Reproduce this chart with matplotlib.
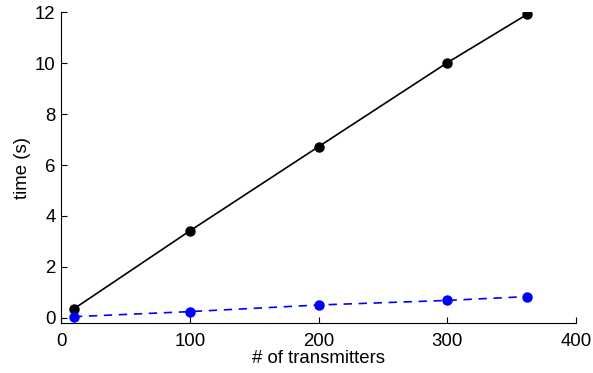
import matplotlib
matplotlib.use("Agg")
import matplotlib.pyplot as plt

plt.rcParams['font.family'] = ['Liberation Sans', 'DejaVu Sans']

# data
transmitters = [10, 100, 200, 300, 362]
time_black = [0.35, 3.41, 6.72, 10.02, 11.92]
time_blue = [0.04, 0.24, 0.5, 0.68, 0.83]

fig = plt.figure(figsize=(5.93, 3.73), dpi=100)
ax = fig.add_axes([0.1029, 0.1332, 0.8685, 0.8338])

ax.plot(transmitters, time_black, '-', color='black', lw=1.2,
        marker='o', ms=6.5)
ax.plot(transmitters, time_blue, '--', color='blue', lw=1.2,
        marker='o', ms=6.5, dashes=(5, 4))

ax.set_xlim(0, 400)
ax.set_ylim(-0.22, 12)
ax.set_xticks([0, 100, 200, 300, 400])
ax.set_yticks([0, 2, 4, 6, 8, 10, 12])

ax.spines['top'].set_visible(False)
ax.spines['right'].set_visible(False)
ax.tick_params(direction='in', length=4, labelsize=13.4)
ax.tick_params(axis='x', pad=7)
ax.tick_params(axis='y', pad=4)

ax.set_xlabel('# of transmitters', fontsize=13.4, labelpad=0)
ax.set_ylabel('time (s)', fontsize=13.4, labelpad=3)

fig.savefig('out.png', dpi=100)
